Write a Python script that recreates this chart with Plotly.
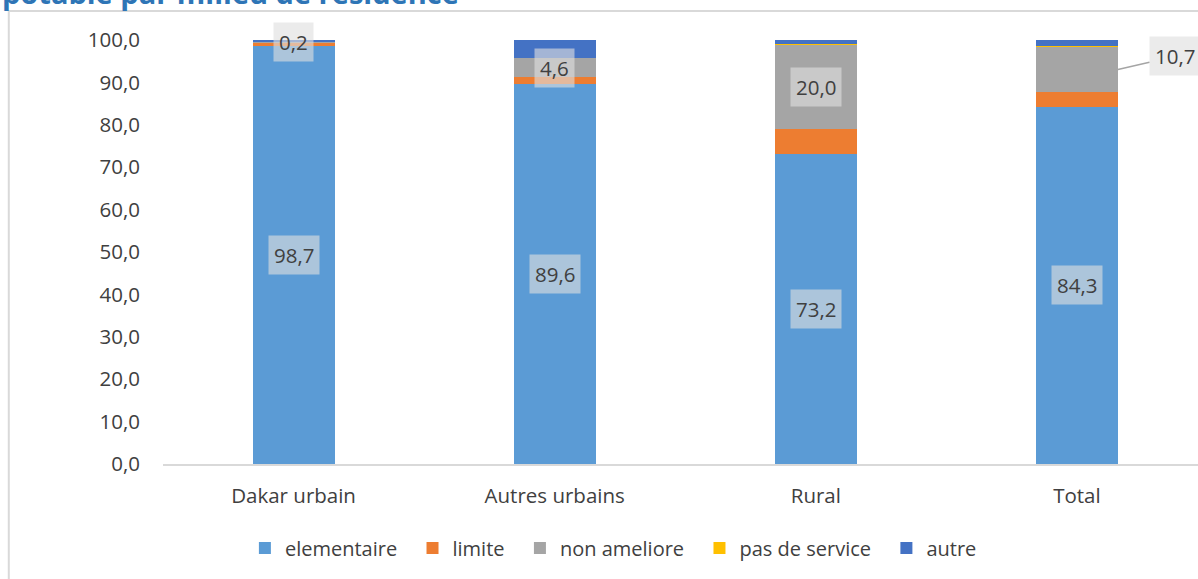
import plotly.graph_objects as go

categories = ["Dakar urbain", "Autres urbains", "Rural", "Total"]
series_names = ["elementaire", "limite", "non ameliore", "pas de service", "autre"]
elementaire = [98.7, 89.6, 73.2, 84.3]
limite = [0.7, 1.6, 5.8, 3.4]
non_ameliore = [0.2, 4.6, 20.0, 10.7]
pas_de_service = [0.0, 0.0, 0.1, 0.2]
autre = [0.4, 4.2, 0.9, 1.4]
y_ticks = [0, 10, 20, 30, 40, 50, 60, 70, 80, 90, 100]
title_text = "potable par milieu de residence"

colors = ["#5B9BD5", "#ED7D31", "#A5A5A5", "#FFC000", "#4472C4"]
series = [elementaire, limite, non_ameliore, pas_de_service, autre]
BAR_W = 0.314
FONT = "Open Sans"
TXT = "#404040"
PAD = "\u00a0\u00a0"

fig = go.Figure()
for name, vals, col in zip(series_names, series, colors):
    fig.add_trace(go.Bar(x=categories, y=vals, name=name + PAD, marker_color=col,
                         marker_line_width=0, width=BAR_W))

label_bg = "rgba(222,222,222,0.62)"
# elementaire labels (centre of segment)
for i, c in enumerate(categories):
    fig.add_annotation(x=c, y=elementaire[i] / 2, text=f"{elementaire[i]:.1f}".replace(".", ","),
                       showarrow=False, bgcolor=label_bg, borderpad=5,
                       font=dict(family=FONT, size=20.5, color=TXT))
# non ameliore labels
for i, c in enumerate(categories):
    base = elementaire[i] + limite[i]
    mid = base + non_ameliore[i] / 2
    txt = f"{non_ameliore[i]:.1f}".replace(".", ",")
    if c == "Total":
        fig.add_annotation(x=i + BAR_W / 2, y=mid, text=txt, showarrow=True,
                           arrowhead=0, arrowwidth=1.5, arrowcolor="#A5A5A5",
                           ax=57, ay=-13, bgcolor=label_bg, borderpad=5,
                           font=dict(family=FONT, size=20.5, color=TXT))
    else:
        fig.add_annotation(x=c, y=mid, text=txt, showarrow=False,
                           bgcolor=label_bg, borderpad=5,
                           font=dict(family=FONT, size=20.5, color=TXT))

# title (partially cut at top)
fig.add_annotation(xref="paper", yref="paper", x=-0.1575, y=1.061, xanchor="left",
                   yanchor="bottom", text=f"<b>{title_text}</b>", showarrow=False,
                   font=dict(family=FONT, size=29, color="#2E75B6"))

# chart frame
fig.add_shape(type="rect", xref="paper", yref="paper", x0=-0.149, x1=1.2, y0=-0.6, y1=1.0684,
              line=dict(color="#D9D9D9", width=2), layer="below")

fig.update_layout(
    width=1198, height=579,
    margin=dict(l=163, r=0, t=40, b=115),
    barmode="stack",
    plot_bgcolor="white", paper_bgcolor="white",
    separators=", ",
    font=dict(family=FONT, color=TXT),
    showlegend=True,
    legend=dict(orientation="h", x=0.44, xanchor="center", y=-0.198, yanchor="middle",
                font=dict(family=FONT, size=20, color=TXT), traceorder="normal"),
    xaxis=dict(range=[-0.5, 3.4636], showgrid=False, showline=True, linecolor="#D9D9D9",
               linewidth=2, ticks="", tickfont=dict(family=FONT, size=20.5, color=TXT),
               ticklabelstandoff=12),
    yaxis=dict(range=[0, 100], tickvals=y_ticks, tickformat=".1f", showgrid=False,
               zeroline=False, showline=False, ticks="",
               tickfont=dict(family=FONT, size=20.5, color=TXT), ticklabelstandoff=22),
)

fig.write_html("out.html", config={"displayModeBar": False},
               post_script="document.body.style.margin='0';document.body.style.overflow='hidden';")
